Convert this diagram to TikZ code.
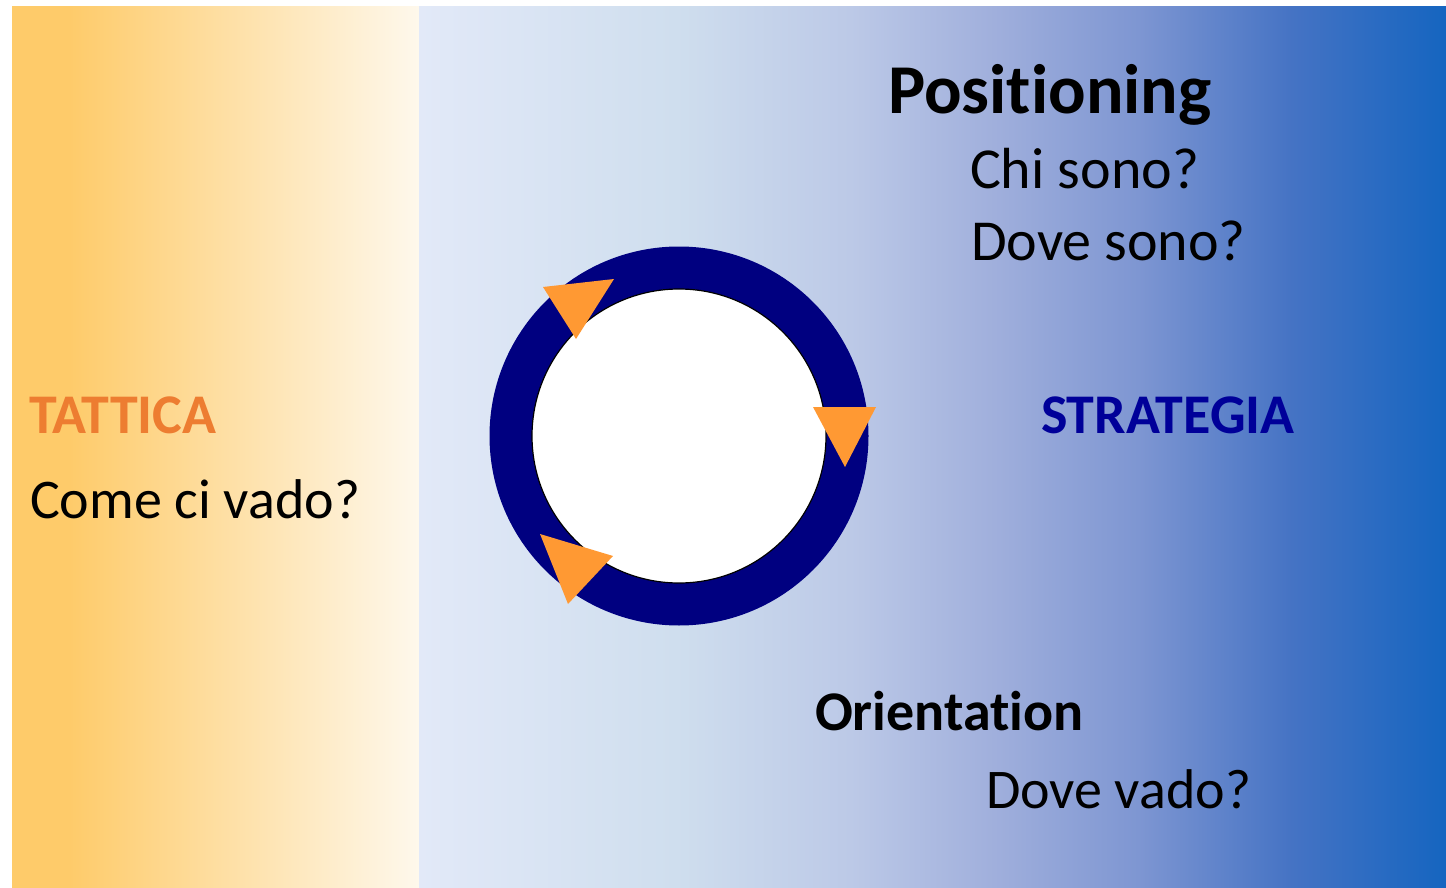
\documentclass[tikz,border=0pt]{standalone}
\usepackage{fontspec}
\setmainfont{Carlito}[Ligatures=NoCommon]

% palette
\definecolor{warmA}{HTML}{FECB6A}
\definecolor{warmB}{HTML}{FEF8EC}
\definecolor{coolA}{HTML}{E2E9F8}
\definecolor{coolB}{HTML}{CFDEEE}
\definecolor{coolC}{HTML}{BCC9E7}
\definecolor{coolD}{HTML}{A0AFDC}
\definecolor{coolE}{HTML}{7E96D2}
\definecolor{coolF}{HTML}{4573C4}
\definecolor{coolG}{HTML}{1565C0}
\definecolor{ringblue}{HTML}{000080}
\definecolor{pointer}{HTML}{FF9933}
\definecolor{tactic}{HTML}{ED7D31}
\definecolor{strategy}{HTML}{000099}

% background bands (the path box spans 25bp..75bp)
\pgfdeclarehorizontalshading{warmband}{100bp}{%
  color(0bp)=(warmA); color(25bp)=(warmA); color(32bp)=(warmA);
  color(75bp)=(warmB); color(100bp)=(warmB)}
\pgfdeclarehorizontalshading{coolband}{100bp}{%
  color(0bp)=(coolA); color(25bp)=(coolA); color(37.5bp)=(coolB);
  color(46bp)=(coolC); color(53bp)=(coolD); color(60bp)=(coolE);
  color(67.5bp)=(coolF); color(75bp)=(coolG); color(100bp)=(coolG)}

\tikzset{
  label/.style={anchor=base west, inner sep=0pt, outer sep=0pt},
  question/.style={label, font=\fontsize{28}{33}\selectfont},
  bigquestion/.style={label, font=\fontsize{29}{34}\selectfont},
  heading/.style={label, font=\fontsize{28}{33}\selectfont\bfseries},
  title/.style={label, font=\fontsize{35}{41}\selectfont\bfseries},
  arrowhead/.style={fill=pointer, draw=none}
}

\begin{document}
\begin{tikzpicture}[x=0.5pt, y=-0.5pt]
  \useasboundingbox (0,0) rectangle (1446,888);
  \fill[white] (0,0) rectangle (1446,888);

  % tactical and strategic panels
  \shade[shading=warmband] (12,7) rectangle (419,888);
  \shade[shading=coolband] (419,7) rectangle (1446,888);

  % cycle ring
  \fill[ringblue] (679,436) circle[radius=94.75pt];
  \filldraw[fill=white, draw=black, line width=0.6pt] (679,436) circle[radius=73.5pt];

  % direction markers on the ring
  \fill[arrowhead] (543,287) -- (614,279) -- (576,339) -- cycle;
  \fill[arrowhead] (813,407) -- (876,407) -- (845,467) -- cycle;
  \fill[arrowhead] (540,534) -- (613,556) -- (568,604) -- cycle;

  % texts
  \node[title]       (pos)      at (888,114) {Positioning};
  \node[bigquestion] (chi)      at (970,188) {Chi sono?};
  \node[bigquestion] (dove)     at (971,260) {Dove sono?};
  \node[heading, text=tactic]   (tat)   at (29,433)  {TATTICA};
  \node[question]    (come)     at (30,518) {Come ci vado?};
  \node[heading, text=strategy] (strat) at (1041,433) {STRATEGIA};
  \node[heading]     (orient)   at (815,730) {Orientation};
  \node[question]    (dovevado) at (986,808) {Dove vado?};
\end{tikzpicture}
\end{document}
